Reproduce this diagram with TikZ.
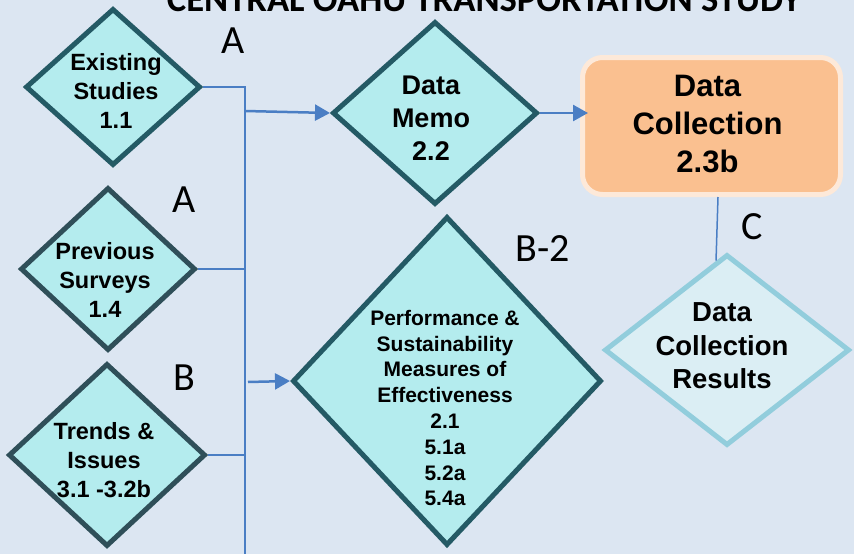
\documentclass[tikz,border=0pt]{standalone}
\usepackage{fontspec}
\setmainfont{Liberation Sans}
\newfontfamily\calfont{Carlito}
\usetikzlibrary{shapes.geometric,arrows.meta}
\definecolor{bg}{HTML}{DCE6F2}
\definecolor{dfill}{HTML}{B4ECEE}
\definecolor{dline}{HTML}{245A65}
\definecolor{dlinegray}{HTML}{2F4F59}
\definecolor{rfill}{HTML}{DBEEF4}
\definecolor{rline}{HTML}{92CDDC}
\definecolor{ofill}{HTML}{FAC090}
\definecolor{oline}{HTML}{FDE9D9}
\definecolor{conn}{HTML}{4A7EC4}
\begin{document}
\begin{tikzpicture}[x=1pt,y=-1pt,
  dia/.style={diamond,draw=dline,fill=dfill,line width=5pt,inner sep=0pt,aspect=1},
  txt/.style={align=center,inner sep=0pt,text=black},
  fsA/.style={font=\bfseries\fontsize{23.5}{29}\selectfont},
  fsB/.style={font=\bfseries\fontsize{27}{33}\selectfont},
  fsC/.style={font=\bfseries\fontsize{31}{38}\selectfont},
  fsD/.style={font=\bfseries\fontsize{21}{25.8}\selectfont},
  fsE/.style={font=\bfseries\fontsize{27.5}{33.5}\selectfont},
  lab/.style={font=\calfont\fontsize{40}{48}\selectfont,inner sep=0pt},
  link/.style={draw=conn,line width=1.5pt},
  arr/.style={draw=conn,line width=2.5pt,-{Triangle[length=15pt,width=16pt]}}]
\fill[bg] (0,0) rectangle (854,554);
\useasboundingbox (0,0) rectangle (854,554);

% title
\node[font=\calfont\bfseries\fontsize{36.6}{40}\selectfont,anchor=base,inner sep=0pt] (title) at (484,11) {CENTRAL OAHU TRANSPORTATION STUDY};

% shapes
\node[dia,minimum width=175pt,minimum height=157pt] (es) at (113,87) {};
\node[dia,draw=dlinegray,minimum width=175pt,minimum height=163pt] (ps) at (108,269) {};
\node[dia,draw=dlinegray,minimum width=197pt,minimum height=183pt] (ti) at (107,455) {};
\node[dia,minimum width=205pt,minimum height=183pt] (dm) at (435,113) {};
\node[dia,minimum width=309pt,minimum height=329pt] (pe) at (447,381) {};
\node[dia,draw=rline,fill=rfill,minimum width=245pt,minimum height=191pt] (dcr) at (727,350) {};
\node[draw=oline,fill=ofill,line width=5pt,rounded corners=20pt,minimum width=258pt,minimum height=137pt,inner sep=0pt] (dc) at (711.5,126) {};

% texts
\node[txt,fsA] (est) at (116,91) {Existing\\Studies\\1.1};
\node[txt,fsA] (pst) at (105,280) {Previous\\Surveys\\1.4};
\node[txt,fsA] (tit) at (104,460) {Trends \&\\Issues\\3.1 -3.2b};
\node[txt,fsB] (dmt) at (431,118) {Data\\Memo\\2.2};
\node[txt,fsC] (dct) at (707.5,124) {Data\\Collection\\2.3b};
\node[txt,fsD] (pet) at (445,408) {Performance \&\\Sustainability\\Measures of\\Effectiveness\\2.1\\5.1a\\5.2a\\5.4a};
\node[txt,fsE] (dcrt) at (722,346) {Data\\Collection\\Results};

% labels
\node[lab] (la1) at (233,41) {A};
\node[lab] (la2) at (184,200) {A};
\node[lab] (lb) at (184,378) {B};
\node[lab] (lb2) at (543,249) {B-2};
\node[lab] (lc) at (752,227) {C};

% connectors
\coordinate (busbot) at (245,554);
\coordinate (j1) at (245,111);
\coordinate (j2) at (248,382);
\draw[link] (es.east) -| (busbot);
\draw[link] (ps.east) -- (ps.east -| busbot);
\draw[link] (ti.east) -- (ti.east -| busbot);
\draw[arr] (j1) -- (dm.west);
\draw[arr] (j2) -- (pe.west);
\draw[arr,shorten >=-8pt] (dm.east) -- (dm.east -| dc.west);
\draw[link] ([xshift=6.5pt]dc.south) -- (dcr.97);
\end{tikzpicture}
\end{document}
